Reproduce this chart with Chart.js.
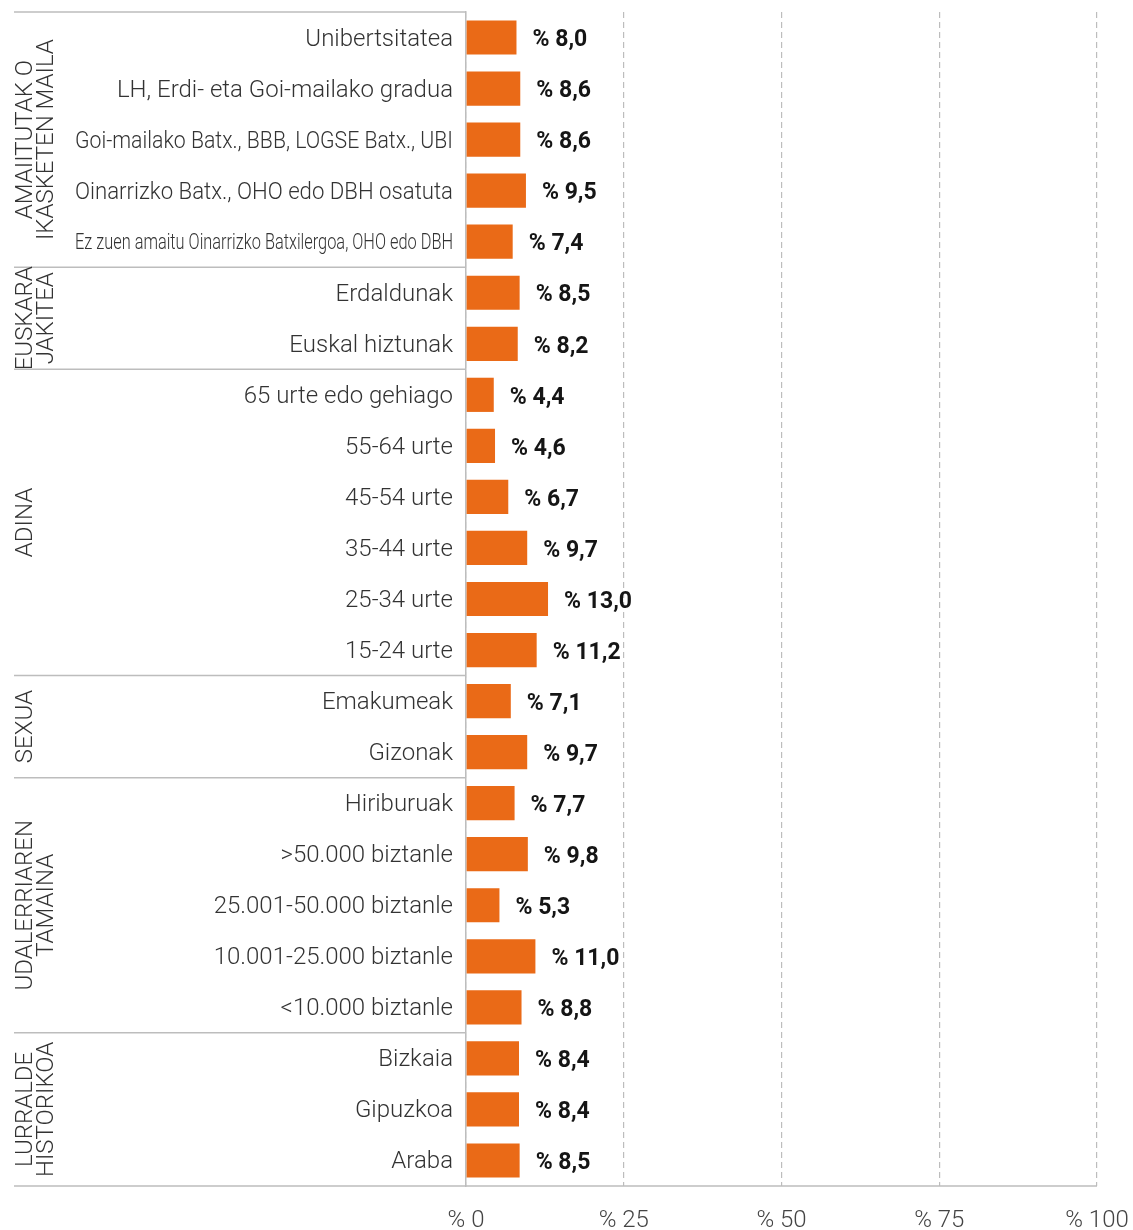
<!DOCTYPE html>
<html>
<head>
<meta charset="utf-8">
<script src="https://cdn.jsdelivr.net/npm/chart.js@4.4.1/dist/chart.umd.min.js"></script>
<style>
  body { margin: 0; background: #fff; }
  #wrap { width: 1133px; height: 1230px; position: relative; }
</style>
</head>
<body>
<div id="wrap"><canvas id="barChart"></canvas></div>
<script>
var categories = [
    'Unibertsitatea',
    'LH, Erdi- eta Goi-mailako gradua',
    'Goi-mailako Batx., BBB, LOGSE Batx., UBI',
    'Oinarrizko Batx., OHO edo DBH osatuta',
    'Ez zuen amaitu Oinarrizko Batxilergoa, OHO edo DBH',
    'Erdaldunak',
    'Euskal hiztunak',
    '65 urte edo gehiago',
    '55-64 urte',
    '45-54 urte',
    '35-44 urte',
    '25-34 urte',
    '15-24 urte',
    'Emakumeak',
    'Gizonak',
    'Hiriburuak',
    '>50.000 biztanle',
    '25.001-50.000 biztanle',
    '10.001-25.000 biztanle',
    '<10.000 biztanle',
    'Bizkaia',
    'Gipuzkoa',
    'Araba'
]
var values = [8.0, 8.6, 8.6, 9.5, 7.4, 8.5, 8.2, 4.4, 4.6, 6.7, 9.7, 13.0, 11.2, 7.1, 9.7, 7.7, 9.8, 5.3, 11.0, 8.8, 8.4, 8.4, 8.5]
var groupNames = [
    ['AMAIITUTAK O', 'IKASKETEN MAILA'],
    ['EUSKARA', 'JAKITEA'],
    ['ADINA'],
    ['SEXUA'],
    ['UDALERRIAREN', 'TAMAINA'],
    ['LURRALDE', 'HISTORIKOA']
]
var groupSizes = [5, 2, 6, 2, 5, 3]
var xTicks = [0, 25, 50, 75, 100]

var FONT = 'Roboto, "Noto Sans", sans-serif'
var lineColor = '#bdbdbd'
var labelMaxWidth = 378

function fmt(v) {
    return '% ' + v.toFixed(1).replace('.', ',')
}

// category labels (squeezed when too long, like the original), group labels, separators
var groupPlugin = {
    id: 'groups',
    afterDraw: function (chart) {
        var ctx = chart.ctx
        var area = chart.chartArea
        var y = chart.scales.y
        var left = 14
        var bounds = [area.top]
        var idx = 0
        groupSizes.forEach(function (n) {
            idx += n
            if (idx < categories.length) {
                bounds.push((y.getPixelForValue(idx - 1) + y.getPixelForValue(idx)) / 2)
            } else {
                bounds.push(area.bottom)
            }
        })
        ctx.save()
        ctx.strokeStyle = lineColor
        ctx.lineWidth = 1.5
        bounds.forEach(function (b, i) {
            ctx.beginPath()
            ctx.moveTo(left, b)
            ctx.lineTo(i === bounds.length - 1 ? area.right : area.left, b)
            ctx.stroke()
        })

        ctx.fillStyle = '#333'
        ctx.textBaseline = 'middle'
        ctx.textAlign = 'right'
        categories.forEach(function (txt, i) {
            var size = txt.length > 45 ? 22 : 24
            ctx.font = '300 ' + size + 'px ' + FONT
            ctx.fillText(txt, area.left - 13, y.getPixelForValue(i) + 2, labelMaxWidth)
        })

        ctx.font = '300 24px ' + FONT
        ctx.textAlign = 'center'
        groupNames.forEach(function (lines, g) {
            var cy = (bounds[g] + bounds[g + 1]) / 2
            lines.forEach(function (txt, k) {
                ctx.save()
                ctx.translate(26 + k * 20.5, cy)
                ctx.rotate(-Math.PI / 2)
                ctx.fillText(txt, 0, 0)
                ctx.restore()
            })
        })
        ctx.restore()
    }
}

// value labels next to bars
var valuePlugin = {
    id: 'values',
    afterDatasetsDraw: function (chart) {
        var ctx = chart.ctx
        var meta = chart.getDatasetMeta(0)
        ctx.save()
        ctx.fillStyle = '#151515'
        ctx.font = 'bold 23px ' + FONT
        ctx.textAlign = 'left'
        ctx.textBaseline = 'middle'
        meta.data.forEach(function (bar, i) {
            ctx.fillText(fmt(values[i]), bar.x + 16, bar.y + 3)
        })
        ctx.restore()
    }
}

var barCanvas = document.getElementById('barChart').getContext('2d')
new Chart(barCanvas, {
    type: 'bar',
    data: {
        labels: categories,
        datasets: [{
            data: values,
            backgroundColor: '#ea6a17',
            barPercentage: 0.67,
            categoryPercentage: 1
        }]
    },
    options: {
        indexAxis: 'y',
        responsive: true,
        maintainAspectRatio: false,
        animation: false,
        layout: { padding: { top: 12, right: 36, bottom: 0, left: 0 } },
        plugins: {
            legend: { display: false },
            tooltip: { enabled: false }
        },
        scales: {
            y: {
                afterFit: function (scale) {
                    scale.width = 466
                    scale.paddingTop = 0
                    scale.paddingBottom = 0
                },
                grid: { display: false, drawTicks: false },
                border: { display: true, color: lineColor, width: 1.5 },
                ticks: { display: false }
            },
            x: {
                min: 0,
                max: 100,
                afterFit: function (scale) {
                    scale.height = 44
                    scale.paddingLeft = 0
                    scale.paddingRight = 0
                },
                afterBuildTicks: function (scale) {
                    scale.ticks = xTicks.map(function (v) { return { value: v } })
                },
                grid: { color: lineColor, lineWidth: 1.2, drawTicks: false },
                border: { display: false, dash: [6, 4] },
                ticks: {
                    padding: 21,
                    color: '#444',
                    font: { family: FONT, size: 24, weight: 300 },
                    callback: function (v) { return '% ' + v }
                }
            }
        }
    },
    plugins: [groupPlugin, valuePlugin]
})
</script>
</body>
</html>
